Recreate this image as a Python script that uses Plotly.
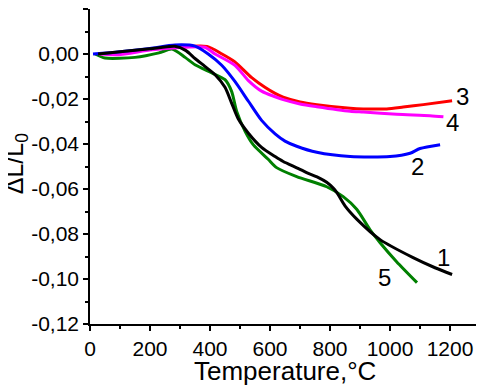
import plotly.graph_objects as go

# Curve 1 (black)
x1 = [27, 100, 200, 283, 320, 350, 383, 417, 450, 472, 494, 528, 572, 617, 644, 689, 722, 760, 789, 810, 823, 850, 890, 967, 1077, 1150, 1207]
y1 = [0.0, 0.001, 0.0023, 0.0034, 0.0015, -0.0020, -0.0055, -0.0092, -0.0148, -0.0218, -0.0288, -0.0352, -0.0415, -0.0456, -0.0478, -0.0506, -0.0527, -0.0548, -0.0570, -0.0595, -0.0616, -0.0675, -0.0735, -0.0825, -0.0905, -0.0950, -0.0980]
# Curve 2 (blue)
x2 = [10, 100, 200, 283, 350, 394, 439, 483, 528, 572, 617, 650, 689, 756, 867, 1000, 1067, 1100, 1167]
y2 = [0.0, 0.001, 0.0025, 0.0040, 0.0035, 0.0000, -0.0050, -0.0122, -0.0210, -0.0295, -0.0355, -0.0387, -0.0410, -0.0437, -0.0456, -0.0456, -0.0441, -0.0420, -0.0403]
# Curve 3 (red)
x3 = [300, 390, 440, 483, 539, 583, 617, 644, 700, 756, 867, 911, 989, 1044, 1111, 1207]
y3 = [0.0031, 0.0034, 0.0000, -0.0035, -0.0105, -0.0148, -0.0175, -0.0192, -0.0213, -0.0225, -0.0241, -0.0244, -0.0244, -0.0236, -0.0225, -0.0208]
# Curve 4 (magenta)
x4 = [30, 93, 207, 317, 383, 417, 483, 528, 572, 617, 644, 700, 756, 867, 911, 1022, 1133, 1178]
y4 = [0.0, -0.0003, 0.0019, 0.0030, 0.0030, 0.0000, -0.0050, -0.0118, -0.0165, -0.0190, -0.0203, -0.0222, -0.0234, -0.0254, -0.0258, -0.0268, -0.0274, -0.0279]
# Curve 5 (green)
x5 = [17, 50, 150, 230, 273, 317, 350, 406, 450, 472, 489, 517, 544, 594, 622, 689, 789, 844, 889, 933, 967, 1022, 1090]
y5 = [0.0, -0.0018, -0.0015, 0.0005, 0.0022, -0.0015, -0.0048, -0.0084, -0.0114, -0.0166, -0.0255, -0.0344, -0.0403, -0.0468, -0.0505, -0.0545, -0.0590, -0.0634, -0.0690, -0.0780, -0.0839, -0.0923, -0.1016]

curve_labels = ["1", "2", "3", "4", "5"]
label_x = [1177, 1093, 1243, 1207, 983]
label_y = [-0.0905, -0.0500, -0.0190, -0.0305, -0.0994]

ytick_vals = [0.02, 0.0, -0.02, -0.04, -0.06, -0.08, -0.10, -0.12]
ytick_text = ["0,02", "0,00", "-0,02", "-0,04", "-0,06", "-0,08", "-0,10", "-0,12"]
xtick_vals = [0, 200, 400, 600, 800, 1000, 1200]
xtick_text = ["0", "200", "400", "600", "800", "1000", "1200"]

x_title = "Temperature,°C"
y_title = "ΔL/L<sub>0</sub>"

FONT = "Liberation Sans, Arial, sans-serif"

fig = go.Figure()
series = [
    (x5, y5, "#008000"),
    (x3, y3, "#FF0000"),
    (x4, y4, "#FF00FF"),
    (x2, y2, "#0000FF"),
    (x1, y1, "#000000"),
]
for xs, ys, c in series:
    fig.add_trace(go.Scatter(x=xs, y=ys, mode="lines",
                             line=dict(color=c, width=3, shape="spline", smoothing=0.7),
                             showlegend=False, hoverinfo="skip"))

for t, lx, ly in zip(curve_labels, label_x, label_y):
    fig.add_annotation(x=lx, y=ly, text=t, showarrow=False,
                       font=dict(family=FONT, size=24, color="black"))

# axis titles
fig.add_annotation(xref="paper", yref="paper", x=0.5, y=-0.148, text=x_title,
                   showarrow=False, xanchor="center", yanchor="middle",
                   font=dict(family=FONT, size=26, color="black"))
fig.add_annotation(xref="paper", yref="paper", x=-0.19, y=0.51, text=y_title,
                   showarrow=False, xanchor="center", yanchor="middle", textangle=-90,
                   font=dict(family=FONT, size=25, color="black"))

axis_common = dict(ticks="outside", ticklen=5, tickwidth=1.5, tickcolor="black",
                   showline=True, linecolor="black", linewidth=1.5, showgrid=False,
                   zeroline=False, tickfont=dict(family=FONT, size=21, color="black"),
                   automargin=False)

# The page body has a default 8px margin, so the figure is sized to fit the window.
fig.update_layout(
    width=476, height=377,
    margin=dict(l=82, r=4, t=1, b=61),
    plot_bgcolor="white", paper_bgcolor="white",
    font=dict(family=FONT, color="black"),
    xaxis=dict(range=[0, 1300], tickmode="array", tickvals=xtick_vals, ticktext=xtick_text,
               minor=dict(tickmode="linear", tick0=0, dtick=100, ticks="outside", ticklen=3, tickwidth=1.5, tickcolor="black"),
               **axis_common),
    yaxis=dict(range=[-0.12, 0.02], tickmode="array", tickvals=ytick_vals, ticktext=ytick_text,
               minor=dict(tickmode="linear", tick0=0, dtick=0.01, ticks="outside", ticklen=3, tickwidth=1.5, tickcolor="black"),
               **axis_common),
)

fig.write_html("out.html")
